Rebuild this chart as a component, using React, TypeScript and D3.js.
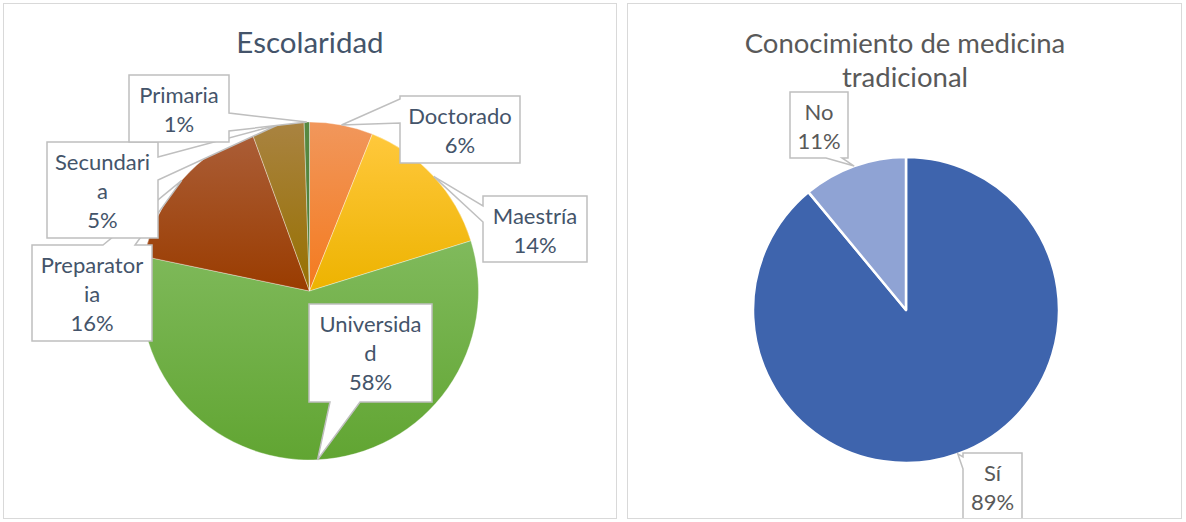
import React from "react";
import * as d3 from "d3";

// ---------- data ----------
const eduCategories = ["Doctorado", "Maestría", "Universidad", "Preparatoria", "Secundaria", "Primaria"];
const eduCounts = [12, 28, 115, 32, 10, 1];
const eduLabelLines = [["Doctorado"], ["Maestría"], ["Universida", "d"], ["Preparator", "ia"], ["Secundari", "a"], ["Primaria"]];
const eduTitle = "Escolaridad";

const knowCategories = ["Sí", "No"];
const knowValues = [89, 11];
const knowLabelLines = [["Sí"], ["No"]];
const knowTitle = ["Conocimiento de medicina", "tradicional"];

// ---------- styles / layout ----------
const eduGrad = [
  ["#F1975C", "#F47A1E"],
  ["#FFC83C", "#EDB300"],
  ["#80BA5C", "#61A532"],
  ["#AB5E38", "#9A3C00"],
  ["#A98341", "#977000"],
  ["#578A42", "#4B7A36"],
];
const knowColors = ["#3E64AD", "#8FA3D4"];

type Box = { x: number; y: number; w: number; h: number; side: string; p1: number; p2: number };
const eduBoxes: Box[] = [
  { x: 400, y: 96, w: 120, h: 67, side: "left", p1: 3, p2: 27 },
  { x: 483, y: 196, w: 104, h: 66, side: "left", p1: 10, p2: 26 },
  { x: 309, y: 304, w: 123, h: 98, side: "bottom", p1: 21, p2: 51 },
  { x: 32, y: 245, w: 120, h: 96, side: "top", p1: 71, p2: 103 },
  { x: 47, y: 142, w: 111, h: 96, side: "right", p1: 15, p2: 38 },
  { x: 129, y: 75, w: 100, h: 67, side: "right", p1: 38, p2: 56 },
];
const knowBoxes: Box[] = [
  { x: 963, y: 453, w: 59, h: 75, side: "left", p1: 4, p2: 16 },
  { x: 790, y: 92, w: 58, h: 66, side: "bottom", p1: 36, p2: 52 },
];
const drawOrderEdu = [3, 4, 5, 0, 1, 2];

const FONT = "Lato, 'Open Sans', sans-serif";

function calloutPath(b: Box, t: [number, number]) {
  const { x, y, w, h, side, p1, p2 } = b;
  const T = `L${t[0]},${t[1]}`;
  if (side === "right")
    return `M${x},${y}L${x + w},${y}L${x + w},${y + p1}${T}L${x + w},${y + p2}L${x + w},${y + h}L${x},${y + h}Z`;
  if (side === "left")
    return `M${x},${y}L${x + w},${y}L${x + w},${y + h}L${x},${y + h}L${x},${y + p2}${T}L${x},${y + p1}Z`;
  if (side === "top")
    return `M${x},${y}L${x + p1},${y}${T}L${x + p2},${y}L${x + w},${y}L${x + w},${y + h}L${x},${y + h}Z`;
  return `M${x},${y}L${x + w},${y}L${x + w},${y + h}L${x + p2},${y + h}${T}L${x + p1},${y + h}L${x},${y + h}Z`;
}

export default function App() {
  // left pie
  const eduCx = 309.5, eduCy = 291, eduR = 169;
  const eduTotal = d3.sum(eduCounts);
  const eduArcs = d3.pie<number>().sort(null)(eduCounts);
  const eduArc = d3.arc<d3.PieArcDatum<number>>().innerRadius(0).outerRadius(eduR);
  const eduEdge = d3.arc<d3.PieArcDatum<number>>().innerRadius(eduR).outerRadius(eduR);

  // right pie
  const kCx = 906, kCy = 310, kR = 153;
  const kTotal = d3.sum(knowValues);
  const kArcs = d3.pie<number>().sort(null)(knowValues);
  const kArc = d3.arc<d3.PieArcDatum<number>>().innerRadius(0).outerRadius(kR);
  const kEdge = d3.arc<d3.PieArcDatum<number>>().innerRadius(kR).outerRadius(kR);

  const pct = (v: number, tot: number) => `${Math.round((v / tot) * 100)}%`;

  const renderLabel = (
    b: Box,
    tip: [number, number],
    lines: string[],
    color: string,
    key: string
  ) => (
    <g key={key}>
      <path d={calloutPath(b, tip)} fill="#FFFFFF" stroke="#BFBFBF" strokeWidth={1.5} strokeLinejoin="miter" />
      <text x={b.x + b.w / 2} fontFamily={FONT} fontSize={22} fill={color} textAnchor="middle">
        {lines.map((l, i) => (
          <tspan key={i} x={b.x + b.w / 2} y={b.y + 28 + i * 29}>
            {l}
          </tspan>
        ))}
      </text>
    </g>
  );

  return (
    <svg width={1186} height={522} style={{ position: "absolute", left: 0, top: 0, background: "#FFFFFF" }}>
      <defs>
        {eduGrad.map((g, i) => (
          <linearGradient key={i} id={`eg${i}`} x1="0" y1="0" x2="0" y2="1">
            <stop offset="0" stopColor={g[0]} />
            <stop offset="1" stopColor={g[1]} />
          </linearGradient>
        ))}
        <clipPath id="rightClip">
          <rect x={627} y={3} width={556} height={516} />
        </clipPath>
      </defs>

      {/* panels */}
      <rect x={3.5} y={3.5} width={613} height={515} fill="#FFFFFF" stroke="#D9D9D9" strokeWidth={1} />
      <rect x={627.5} y={3.5} width={554} height={515} fill="#FFFFFF" stroke="#D9D9D9" strokeWidth={1} />

      {/* left chart */}
      <text x={310} y={53} fontFamily={FONT} fontSize={29.5} fill="#44546A" textAnchor="middle">
        {eduTitle}
      </text>
      <g transform={`translate(${eduCx},${eduCy})`}>
        {eduArcs.map((a, i) => (
          <path key={eduCategories[i]} d={eduArc(a) || ""} fill={`url(#eg${i})`} stroke="#FFFFFF" strokeOpacity={0.45} strokeWidth={0.8} />
        ))}
      </g>
      {drawOrderEdu.map((i) => {
        const c = eduEdge.centroid(eduArcs[i]);
        const tip: [number, number] = [c[0] + eduCx, c[1] + eduCy];
        const lines = [...eduLabelLines[i], pct(eduCounts[i], eduTotal)];
        return renderLabel(eduBoxes[i], tip, lines, "#44546A", "e" + i);
      })}

      {/* right chart */}
      <text fontFamily={FONT} fontSize={27.5} fill="#595959" textAnchor="middle">
        {knowTitle.map((t, i) => (
          <tspan key={i} x={905} y={53 + i * 34}>
            {t}
          </tspan>
        ))}
      </text>
      <g transform={`translate(${kCx},${kCy})`}>
        {kArcs.map((a, i) => (
          <path key={knowCategories[i]} d={kArc(a) || ""} fill={knowColors[i]} stroke="#FFFFFF" strokeWidth={2.5} strokeLinejoin="round" />
        ))}
      </g>
      <g clipPath="url(#rightClip)">
        {kArcs.map((a, i) => {
          const c = kEdge.centroid(a);
          const tip: [number, number] = [c[0] + kCx, c[1] + kCy];
          const lines = [...knowLabelLines[i], pct(knowValues[i], kTotal)];
          return renderLabel(knowBoxes[i], tip, lines, "#595959", "k" + i);
        })}
      </g>
      <rect x={627.5} y={3.5} width={554} height={515} fill="none" stroke="#D9D9D9" strokeWidth={1} />
    </svg>
  );
}
